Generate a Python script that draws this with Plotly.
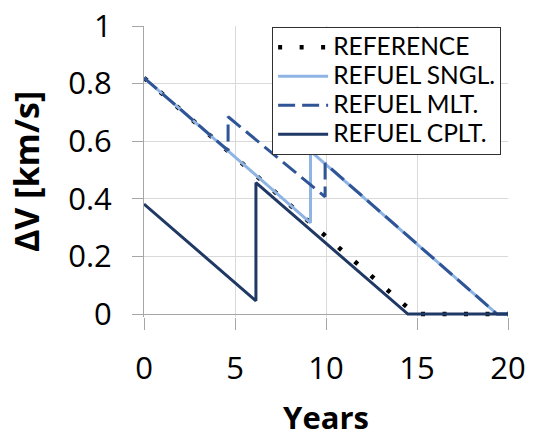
import plotly.graph_objects as go

# ---- data ----
ref_years = [0, 14.9, 20]
ref_dv = [0.82, 0.0, 0.0]

sngl_years = [0, 9.15, 9.15, 19.4, 20]
sngl_dv = [0.82, 0.317, 0.566, 0.0, 0.0]

mlt_years = [0, 4.62, 4.62, 9.95, 9.95, 19.4, 20]
mlt_dv = [0.82, 0.568, 0.685, 0.407, 0.523, 0.0, 0.0]

cplt_years = [0, 6.15, 6.15, 14.5, 20]
cplt_dv = [0.382, 0.046, 0.456, 0.0, 0.0]

series_names = ["REFERENCE", "REFUEL SNGL.", "REFUEL MLT.", "REFUEL CPLT."]

x_ticks = [0, 5, 10, 15, 20]
y_ticks = [0, 0.2, 0.4, 0.6, 0.8, 1]
y_tick_text = ["0", "0.2", "0.4", "0.6", "0.8", "1"]

FONT = "Open Sans"
AXIS = "#A6A6A6"
GRID = "#D9D9D9"


def lg(name):
    return '<span style="font-size:24.5px">' + name + '</span>'


fig = go.Figure()
fig.add_trace(go.Scatter(x=ref_years, y=ref_dv, mode="lines", name=lg(series_names[0]),
                         line=dict(color="black", width=4.5, dash="4px,17.5px")))
fig.add_trace(go.Scatter(x=sngl_years, y=sngl_dv, mode="lines", name=lg(series_names[1]),
                         line=dict(color="#8EB4E3", width=3)))
fig.add_trace(go.Scatter(x=mlt_years, y=mlt_dv, mode="lines", name=lg(series_names[2]),
                         line=dict(color="#2F5597", width=3, dash="17px,7px")))
fig.add_trace(go.Scatter(x=cplt_years, y=cplt_dv, mode="lines", name=lg(series_names[3]),
                         line=dict(color="#1F3864", width=3)))

fig.update_layout(
    width=533, height=439,
    margin=dict(l=144, r=25, t=26, b=122, pad=0, autoexpand=False),
    paper_bgcolor="white", plot_bgcolor="white",
    font=dict(family=FONT, color="black"),
    showlegend=True,
    legend=dict(x=0.352, y=0.997, xanchor="left", yanchor="top",
                bgcolor="white", bordercolor="#303030", borderwidth=1,
                font=dict(family="Lato", size=20, color="black"),
                itemwidth=50, tracegroupgap=0),
    xaxis=dict(range=[0, 20], tickvals=x_ticks, showgrid=True, gridcolor=GRID, gridwidth=1,
               showline=False, zeroline=False, ticks="outside", ticklen=12, tickcolor=AXIS,
               tickwidth=1, tickfont=dict(family=FONT, size=31), automargin=False,
               ticklabelstandoff=12,
               title=dict(text="<b>Years</b>", font=dict(family=FONT, size=31), standoff=20)),
    yaxis=dict(range=[-0.01, 1], tickvals=y_ticks, ticktext=y_tick_text, showgrid=True,
               gridcolor=GRID, gridwidth=1, showline=True, linecolor=AXIS, linewidth=1,
               zeroline=True, zerolinecolor=AXIS, zerolinewidth=1, automargin=False,
               ticks="outside", ticklen=11, tickcolor=AXIS, tickwidth=1,
               tickfont=dict(family=FONT, size=31), ticklabelstandoff=14,
               title=dict(text="<b>ΔV [km/s]</b>", font=dict(family=FONT, size=34), standoff=18)),
)

fig.write_html("out.html")
